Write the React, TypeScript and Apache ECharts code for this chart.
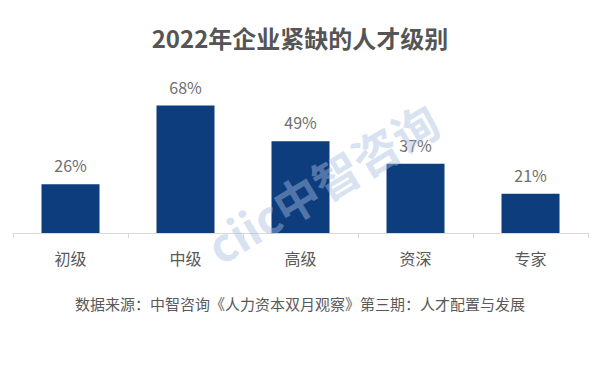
import React, { useEffect, useRef } from "react";
import * as echarts from "echarts";

const categories = ["初级", "中级", "高级", "资深", "专家"];
const values = [26, 68, 49, 37, 21];
const titleText = "2022年企业紧缺的人才级别";
const sourceText = "数据来源：中智咨询《人力资本双月观察》第三期：人才配置与发展";
const watermarkText = "ciic中智咨询";

const FONT = "'Noto Sans CJK SC', 'Noto Sans', sans-serif";

export default function App() {
  const ref = useRef<HTMLDivElement>(null);
  useEffect(() => {
    if (!ref.current) return;
    const chart = echarts.init(ref.current, null, { renderer: "svg" });
    chart.setOption({
      animation: false,
      backgroundColor: "#ffffff",
      title: {
        text: titleText,
        left: "center",
        top: 20,
        textStyle: { fontFamily: FONT, fontSize: 24, fontWeight: "bold", color: "#555555" },
      },
      grid: { left: 13, right: 12, top: 83, bottom: 134 },
      xAxis: {
        type: "category",
        data: categories,
        axisLine: { lineStyle: { color: "#d9d9d9", width: 1 } },
        axisTick: { show: true, length: 5, lineStyle: { color: "#d9d9d9" } },
        axisLabel: { fontFamily: FONT, fontSize: 16, color: "#595959", margin: 17 },
      },
      yAxis: {
        type: "value",
        min: 0,
        max: 80,
        show: false,
        splitLine: { show: false },
      },
      series: [
        {
          type: "bar",
          data: values,
          barWidth: 58,
          itemStyle: { color: "#0d3d7c" },
          label: {
            show: true,
            position: "top",
            distance: 11,
            formatter: "{c}%",
            fontFamily: FONT,
            fontSize: 16,
            color: "#6e6e6e",
          },
        },
      ],
      graphic: [
        {
          type: "text",
          left: "center",
          top: 296,
          style: {
            text: sourceText,
            fontFamily: FONT,
            fontSize: 15,
            fill: "#595959",
          },
        },
        {
          type: "text",
          x: 322,
          y: 182,
          rotation: (31 * Math.PI) / 180,
          z: 100,
          style: {
            text: watermarkText,
            fontFamily: FONT,
            fontSize: 46,
            fontWeight: "bold",
            fill: "rgba(170,190,225,0.45)",
            align: "center",
            verticalAlign: "middle",
          },
        },
      ],
    });
    return () => chart.dispose();
  }, []);
  return (
    <div
      ref={ref}
      style={{ position: "fixed", left: 0, top: 0, width: 600, height: 367 }}
    />
  );
}
